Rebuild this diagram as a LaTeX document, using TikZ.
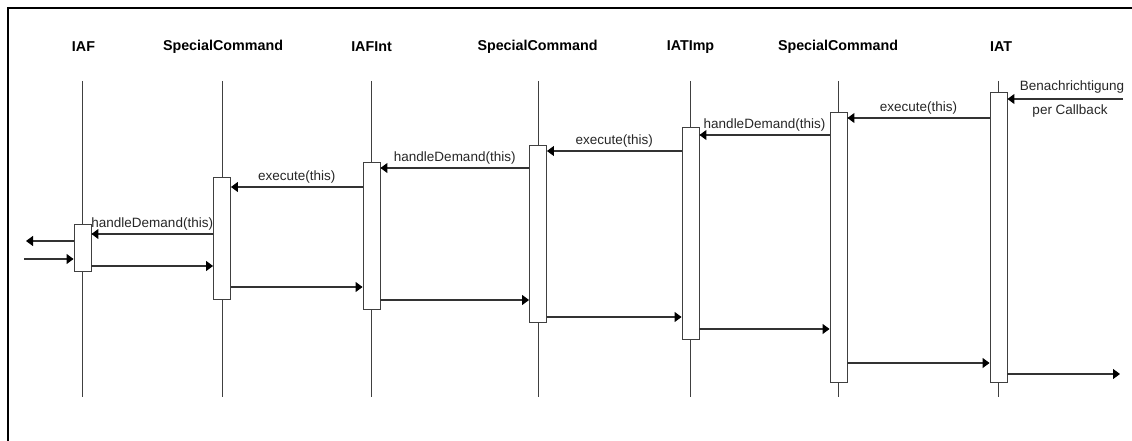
\documentclass[tikz,border=0pt]{standalone}
\usepackage{fontspec}
\setmainfont{Liberation Sans}
\usetikzlibrary{arrows.meta}
\begin{document}
\begin{tikzpicture}[x=1pt,y=-1pt,
  head/.style={font=\bfseries\fontsize{14.3}{16}\selectfont, inner sep=0pt},
  lbl/.style={font=\fontsize{13.5}{15}\selectfont, inner sep=1pt, text=black!85},
  lifeline/.style={draw=black!75, line width=0.8pt},
  act/.style={rectangle, draw=black!75, fill=white, line width=0.9pt,
              minimum width=17pt, inner sep=0pt},
  msg/.style={draw=black!80, line width=1.1pt,
              -{Triangle[length=7pt,width=10pt,color=black,fill=black]}},
  frame/.style={line width=2.4pt}]
\useasboundingbox (0,0) rectangle (1132,441);

% frame
\draw[frame] (8,441) -- (8,8) -- (1132,8);

% object headers
\node[head] (h0) at (83.5,47) {IAF};
\node[head] (h1) at (223,47) {SpecialCommand};
\node[head] (h2) at (371.5,47) {IAFInt};
\node[head] (h3) at (537.5,47) {SpecialCommand};
\node[head] (h4) at (690.5,47) {IATImp};
\node[head] (h5) at (838,47) {SpecialCommand};
\node[head] (h6) at (1001,47) {IAT};

% activation bars
\node[act, minimum height=47pt]  (a0) at (82.5,247.5) {};
\node[act, minimum height=122pt] (a1) at (222,238) {};
\node[act, minimum height=147pt] (a2) at (371.5,235.5) {};
\node[act, minimum height=177pt] (a3) at (538,233.5) {};
\node[act, minimum height=212pt] (a4) at (690.5,233) {};
\node[act, minimum height=270pt] (a5) at (838.5,247) {};
\node[act, minimum height=290pt] (a6) at (998.5,237) {};

% lifelines above and below each bar
\foreach \a in {a0,a1,a2,a3,a4,a5,a6} {
  \draw[lifeline] (\a |- 0,81) -- (\a.north);
  \draw[lifeline] (\a.south) -- (\a |- 0,397);
}

% free ends of the outer messages
\coordinate (inR) at (1123,99);
\coordinate (outL) at (26,241);
\coordinate (inL) at (24,259);
\coordinate (outR) at (1120,374);

% incoming notification
\draw[msg] (inR) -- (a6.east |- inR);
\node[lbl] (n1) at (1072,87) {Benachrichtigung};
\node[lbl] (n2) at (1070,111) {per Callback};

% calls
\draw[msg] (a6.west |- 0,118) -- node[lbl, above=2pt] (m1) {execute(this)} (a5.east |- 0,118);
\draw[msg] (a5.west |- 0,135) -- node[lbl, above=2pt] (m2) {handleDemand(this)} (a4.east |- 0,135);
\draw[msg] (a4.west |- 0,151) -- node[lbl, above=2pt] (m3) {execute(this)} (a3.east |- 0,151);
\draw[msg] (a3.west |- 0,168) -- node[lbl, above=2pt] (m4) {handleDemand(this)} (a2.east |- 0,168);
\draw[msg] (a2.west |- 0,187) -- node[lbl, above=2pt] (m5) {execute(this)} (a1.east |- 0,187);
\draw[msg] (a1.west |- 0,234) -- node[lbl, above=2pt] (m6) {handleDemand(this)} (a0.east |- 0,234);
\draw[msg] (a0.west |- outL) -- (outL);
\draw[msg] (inL) -- (a0.west |- inL);

% returns
\draw[msg] (a0.east |- 0,266) -- (a1.west |- 0,266);
\draw[msg] (a1.east |- 0,287) -- (a2.west |- 0,287);
\draw[msg] (a2.east |- 0,300) -- (a3.west |- 0,300);
\draw[msg] (a3.east |- 0,317) -- (a4.west |- 0,317);
\draw[msg] (a4.east |- 0,329) -- (a5.west |- 0,329);
\draw[msg] (a5.east |- 0,363) -- (a6.west |- 0,363);
\draw[msg] (a6.east |- outR) -- (outR);
\end{tikzpicture}
\end{document}
